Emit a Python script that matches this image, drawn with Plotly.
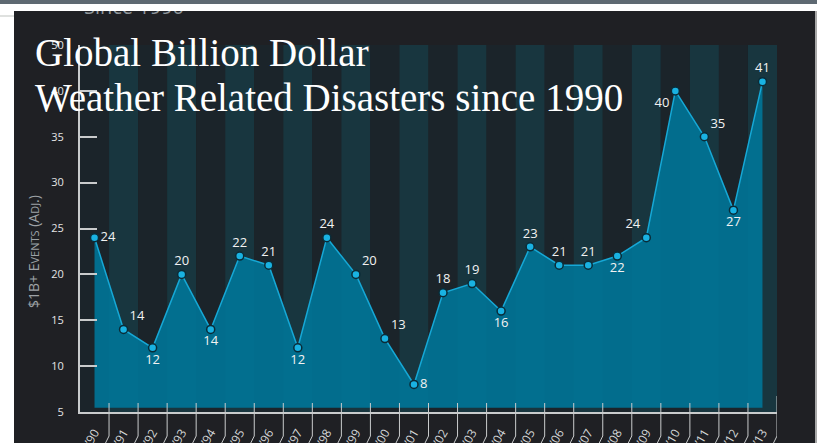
import plotly.graph_objects as go

# ---- data -----------------------------------------------------------------
years = list(range(1990, 2014))
year_labels = ["\u2019" + str(y)[2:] for y in years]
events = [24, 14, 12, 20, 14, 22, 21, 12, 24, 20, 13, 8,
          18, 19, 16, 23, 21, 21, 22, 24, 40, 35, 27, 41]
y_tickvals = [5, 10, 15, 20, 25, 30, 35, 40, 45]
y_ticktext = ["5", "10", "15", "20", "25", "30", "35", "40", "50"]

label_pos = ["middle right", "top right", "bottom center", "top center", "bottom center",
             "top center", "top center", "bottom center", "top center", "top right",
             "top right", "middle right", "top center", "top center", "bottom center",
             "top center", "top center", "top center", "bottom center", "top left",
             "bottom left", "top right", "bottom center", "top center"]

# ---- page geometry (pixels) -------------------------------------------------
W, H = 817, 443
L, R, T, B = 80, 777, 45, 412          # plot area
Y_MIN, Y_MAX = 5, 45
FILL_BASE = 5.45
HEADER_H = 40                          # strip holding the cut-off subtitle

PANEL = "#1f2024"
STRIPE_A = "#1b242a"
STRIPE_B = "#18363f"
AXIS = "#c9cbcc"


def px(x):
    return x / W


def py(y):
    return 1 - y / H


xs = list(range(len(years)))
unit_px = (R - L) / len(years)

fig = go.Figure()

# baseline for the area fill
fig.add_trace(go.Scatter(x=xs, y=[FILL_BASE] * len(xs), mode="lines",
                         line=dict(width=0, color="rgba(0,0,0,0)"),
                         hoverinfo="skip", showlegend=False))
# area + line + markers + value labels
fig.add_trace(go.Scatter(
    x=xs, y=events, mode="lines+markers+text",
    fill="tonexty", fillcolor="rgba(0,118,152,0.9)",
    line=dict(color="#16a8d6", width=1.5),
    marker=dict(size=8, color="#19b2e2", line=dict(color="#0a2c38", width=1.5)),
    text=[str(v) for v in events], textposition=label_pos,
    textfont=dict(family="Open Sans", size=13, color="#f2f2f2"),
    showlegend=False, cliponaxis=False))

# subtitle peeking out under the top band (own pixel-scaled header axes)
fig.add_trace(go.Scatter(
    x=[84], y=[19], mode="text", text=["Since 1990"], textposition="top right",
    textfont=dict(family="Open Sans", size=20, color="#8f969b"),
    xaxis="x2", yaxis="y2", showlegend=False, hoverinfo="skip", cliponaxis=False))

shapes = []
# alternating column stripes behind the plot
for i in xs:
    shapes.append(dict(type="rect", layer="below", xref="x", yref="paper",
                       x0=i - 0.5, x1=i + 0.5, y0=py(B), y1=py(T),
                       fillcolor=STRIPE_A if i % 2 == 0 else STRIPE_B, line_width=0))

# column divider ticks below the x axis, with a short slant to each label
slant = 5 / unit_px
for i in xs:
    b = i + 0.5
    top = 396 if i == xs[-1] else 403
    shapes.append(dict(type="path", layer="above", xref="x", yref="paper",
                       path=f"M {b},{py(top)} L {b},{py(436)} L {b - slant},{py(446)}",
                       line=dict(color=AXIS, width=1)))

# page frame around the dark panel
shapes += [
    dict(type="rect", xref="paper", yref="paper", layer="above",
         x0=px(0), x1=px(W), y0=py(11), y1=py(4), fillcolor="white", line_width=0),
    dict(type="rect", xref="paper", yref="paper", layer="above",
         x0=px(0), x1=px(W), y0=py(4), y1=py(0), fillcolor="#5e6972", line_width=0),
    dict(type="rect", xref="paper", yref="paper", layer="above",
         x0=px(0), x1=px(14), y0=py(H), y1=py(11), fillcolor="white", line_width=0),
    dict(type="line", xref="paper", yref="paper", layer="above",
         x0=px(0), x1=px(14), y0=py(16), y1=py(16), line=dict(color="#bfc3bf", width=1)),
    dict(type="rect", xref="paper", yref="paper", layer="above",
         x0=px(815), x1=px(W), y0=py(H), y1=py(11), fillcolor="#a8a8a8", line_width=0),
]

SMALL = "<span style='font-size:11px'>"
annotations = [
    # y-axis title in small caps
    dict(text=f"$1B+ E{SMALL}VENTS</span> (A{SMALL}DJ</span>.)",
         xref="paper", yref="paper", x=px(33), y=py(252), textangle=-90,
         xanchor="center", yanchor="middle",
         showarrow=False, font=dict(family="Open Sans", size=14, color="#9da2a6")),
    # main title, one annotation per line
    dict(text="Global Billion Dollar",
         xref="paper", yref="paper", x=px(33), y=py(29), xanchor="left", yanchor="top",
         showarrow=False, font=dict(family="Liberation Serif", size=39, color="white")),
    dict(text="Weather Related Disasters since 1990",
         xref="paper", yref="paper", x=px(33), y=py(74), xanchor="left", yanchor="top",
         showarrow=False, font=dict(family="Liberation Serif", size=39, color="white")),
]

fig.update_layout(
    width=W, height=H, margin=dict(l=0, r=0, t=0, b=0),
    paper_bgcolor=PANEL, plot_bgcolor=PANEL,
    shapes=shapes, annotations=annotations, showlegend=False,
    xaxis=dict(domain=[px(L), px(R)], range=[-0.5, len(years) - 0.5],
               tickvals=xs, ticktext=year_labels,
               tickangle=-60, ticks="", showgrid=False, zeroline=False,
               showline=True, linecolor=AXIS, linewidth=2, automargin=False,
               ticklabelstandoff=7,
               tickfont=dict(family="Open Sans", size=12, color="#d5d7d8")),
    yaxis=dict(domain=[py(B), py(T)], range=[Y_MIN, Y_MAX],
               tickvals=y_tickvals, ticktext=y_ticktext,
               ticks="inside", ticklen=17, tickwidth=2, tickcolor=AXIS,
               showgrid=False, zeroline=False, showline=True, linecolor=AXIS,
               linewidth=2, automargin=False, ticklabelstandoff=12,
               tickfont=dict(family="Open Sans", size=11, color="#e4e4e4")),
    xaxis2=dict(domain=[0, 1], range=[0, W], visible=False, fixedrange=True),
    yaxis2=dict(domain=[py(HEADER_H), 1], range=[HEADER_H, 0], visible=False,
                fixedrange=True),
)

fig.write_html("out.html")
